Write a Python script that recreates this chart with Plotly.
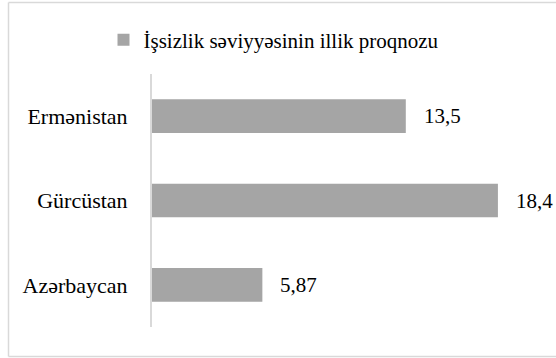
import plotly.graph_objects as go

# Annual unemployment rate forecast by country (%)
countries = ["Azərbaycan", "Gürcüstan", "Ermənistan"]
forecast = [5.87, 18.4, 13.5]
series_name = "İşsizlik səviyyəsinin illik proqnozu"

W, H = 556, 358
ML, MR, MT, MB = 152, 28, 74, 31
X_MAX = 20

BAR = "#A5A5A5"
GRID = "#D9D9D9"
FONT = "Liberation Serif, Times New Roman, serif"

fig = go.Figure()
fig.add_trace(go.Bar(
    y=countries,
    x=forecast,
    orientation="h",
    name=series_name,
    marker=dict(color=BAR, line=dict(width=0)),
    showlegend=True,
))

# value labels just past each bar end, decimal comma
for c, v in zip(countries, forecast):
    fig.add_annotation(
        x=v, y=c, xref="x", yref="y",
        text=f"{v:g}".replace(".", ","),
        showarrow=False, xanchor="left", yanchor="middle",
        xshift=16,
        font=dict(family=FONT, size=21, color="#000000"),
    )

# light chart-area frame: left, top and bottom edges (runs off the right side)
pw = W - ML - MR
ph = H - MT - MB
fx0 = (8.5 - ML) / pw
fx1 = (W + 30 - ML) / pw
fy0 = (H - MB - 356.5) / ph
fy1 = (H - MB - 2.5) / ph
for x0, y0, x1, y1 in [(fx0, fy0, fx0, fy1), (fx0, fy1, fx1, fy1), (fx0, fy0, fx1, fy0)]:
    fig.add_shape(
        type="line", xref="paper", yref="paper",
        x0=x0, y0=y0, x1=x1, y1=y1,
        line=dict(color=GRID, width=1.5),
        layer="below",
    )

fig.update_layout(
    width=W, height=H,
    margin=dict(l=ML, r=MR, t=MT, b=MB, pad=0),
    paper_bgcolor="#FFFFFF",
    plot_bgcolor="#FFFFFF",
    bargap=0.6,
    font=dict(family=FONT, size=21, color="#000000"),
    legend=dict(
        orientation="h",
        x=(274 - ML) / pw, xanchor="center",
        y=(H - MB - 40) / ph, yanchor="middle",
        font=dict(family=FONT, size=21, color="#000000"),
        bgcolor="rgba(0,0,0,0)",
        itemclick=False,
    ),
    xaxis=dict(
        range=[0, X_MAX],
        visible=False,
        showgrid=False,
        zeroline=False,
        fixedrange=True,
    ),
    yaxis=dict(
        showline=True, linecolor=GRID, linewidth=2,
        showgrid=False, zeroline=False,
        ticks="",
        ticklabelstandoff=18,
        tickfont=dict(family=FONT, size=22, color="#000000"),
        fixedrange=True,
    ),
)

fig.write_html("out.html", config={"displayModeBar": False})
